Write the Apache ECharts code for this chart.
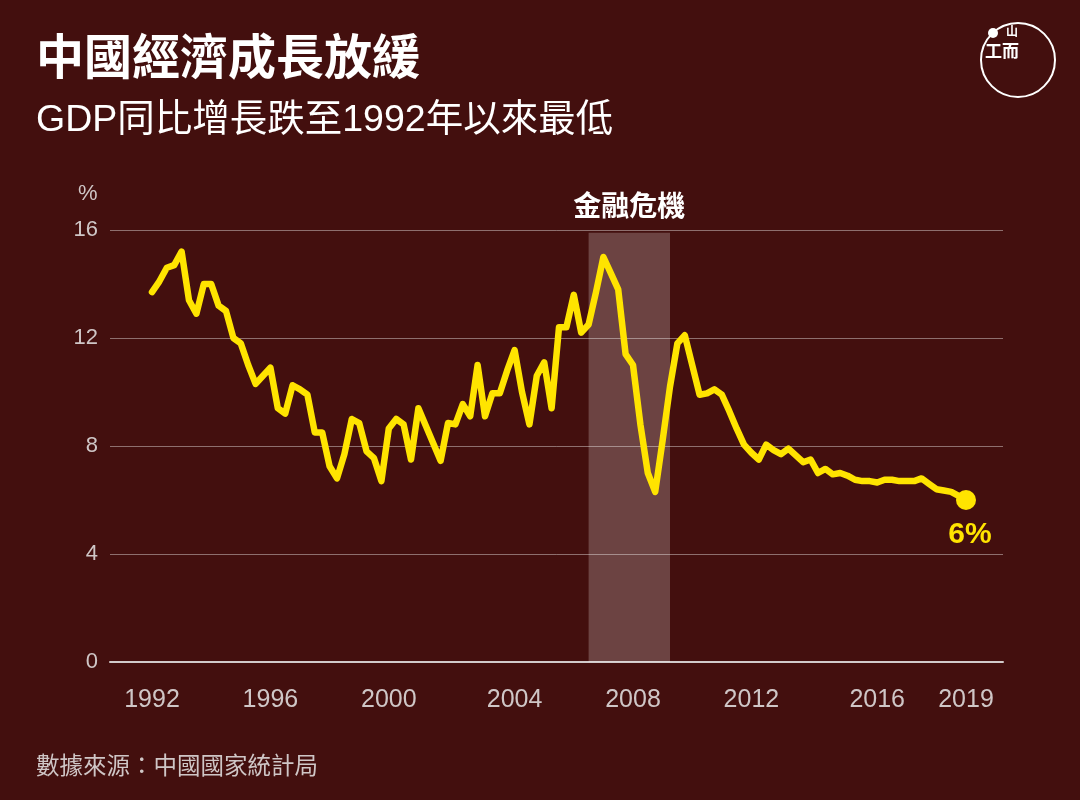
<!DOCTYPE html>
<html>
<head>
<meta charset="utf-8">
<script src="https://cdn.jsdelivr.net/npm/echarts@6/dist/echarts.min.js"></script>
<style>
html,body{margin:0;padding:0;background:#430f0e;}
#chart{width:1080px;height:800px;}
</style>
</head>
<body>
<div id="chart"></div>
<script>
// ---- data ----
const years = [];
for (let y = 1992; y <= 2019; y++) years.push(y);
const quarters = [];
years.forEach(y => { for (let q = 1; q <= 4; q++) { if (y === 2019 && q > 3) break; quarters.push(y + 'Q' + q); } });

// quarterly GDP growth, year on year, %
const gdpGrowth = [
  13.7, 14.1, 14.6, 14.7,   // 1992
  15.2, 13.4, 12.9, 14.0,   // 1993
  14.0, 13.2, 13.0, 12.0,   // 1994
  11.8, 11.0, 10.3, 10.6,   // 1995
  10.9, 9.4, 9.2, 10.25,    // 1996
  10.1, 9.9, 8.5, 8.5,      // 1997
  7.25, 6.8, 7.7, 9.0,      // 1998
  8.85, 7.8, 7.55, 6.7,     // 1999
  8.65, 9.0, 8.8, 7.5,      // 2000
  9.4, 8.75, 8.1, 7.45,     // 2001
  8.85, 8.8, 9.55, 9.1,     // 2002
  11.0, 9.1, 9.95, 9.95,    // 2003
  10.8, 11.55, 10.0, 8.8,   // 2004
  10.6, 11.1, 9.4, 12.4,    // 2005
  12.4, 13.6, 12.2, 12.5,   // 2006
  13.7, 15.0, 14.4, 13.8,   // 2007
  11.4, 11.0, 8.8, 7.0,     // 2008
  6.3, 8.2, 10.2, 11.8,     // 2009
  12.1, 11.0, 9.9, 9.95,    // 2010
  10.1, 9.9, 9.3, 8.65,     // 2011
  8.05, 7.75, 7.5, 8.05,    // 2012
  7.85, 7.7, 7.9, 7.65,     // 2013
  7.4, 7.5, 7.0, 7.15,      // 2014
  6.95, 7.0, 6.9, 6.75,     // 2015
  6.7, 6.7, 6.65, 6.75,     // 2016
  6.75, 6.7, 6.7, 6.7,      // 2017
  6.8, 6.6, 6.4, 6.35,      // 2018
  6.3, 6.15, 6.0            // 2019
];

// quarters carrying a year label on the x axis
const labelQuarters = ['1992Q1','1996Q1','2000Q1','2004Q2','2008Q2','2012Q2','2016Q3','2019Q3'];
const yTicks = [0, 4, 8, 12, 16];
const crisis = { from: '2006Q4', to: '2009Q3', label: '金融危機' };

const titleText = '中國經濟成長放緩';
const subtitleText = 'GDP同比增長跌至1992年以來最低';
const sourceText = '數據來源：中國國家統計局';

// ---- chart ----
const FONT = '"Liberation Sans", "Noto Sans CJK TC", sans-serif';
const chart = echarts.init(document.getElementById('chart'));
const lastIdx = gdpGrowth.length - 1;
const yMin = yTicks[0], yMax = yTicks[yTicks.length - 1];

chart.setOption({
  backgroundColor: '#430f0e',
  animation: false,
  textStyle: { fontFamily: FONT },
  title: [
    { text: titleText, left: 31, top: 32,
      textStyle: { color: '#ffffff', fontSize: 48, fontWeight: 'bold', fontFamily: FONT } },
    { text: subtitleText, left: 31, top: 97,
      textStyle: { color: '#ffffff', fontSize: 37.5, fontWeight: 'normal', fontFamily: FONT } },
    { text: sourceText, left: 31, top: 751,
      textStyle: { color: '#cfc6c6', fontSize: 23.5, fontWeight: 'normal', fontFamily: FONT } }
  ],
  grid: [
    { left: 110, right: 77, top: 230, bottom: 138 },   // gridlines + y labels
    { left: 152, right: 114, top: 230, bottom: 138 }   // data area
  ],
  xAxis: [
    {
      gridIndex: 0, type: 'value', min: 0, max: 1,
      axisLine: { show: true, onZero: false, lineStyle: { color: '#d2caca', width: 2 } },
      axisTick: { show: false }, axisLabel: { show: false }, splitLine: { show: false }
    },
    {
      gridIndex: 1,
      type: 'category',
      data: quarters,
      boundaryGap: false,
      axisLine: { show: false },
      axisTick: { show: false },
      splitLine: { show: false },
      axisLabel: {
        color: '#cfc6c6', fontSize: 25, margin: 26, fontFamily: FONT,
        interval: (i, v) => labelQuarters.indexOf(v) >= 0,
        formatter: v => v.slice(0, 4)
      }
    }
  ],
  yAxis: [
    {
      gridIndex: 0, type: 'value', min: yMin, max: yMax, interval: 4,
      axisLine: { show: false }, axisTick: { show: false },
      axisLabel: { color: '#cfc6c6', fontSize: 22, margin: 12, fontFamily: FONT },
      splitLine: { lineStyle: { color: 'rgba(255,255,255,0.4)', width: 1 } }
    },
    {
      gridIndex: 1, type: 'value', min: yMin, max: yMax, interval: 4,
      axisLine: { show: false }, axisTick: { show: false },
      axisLabel: { show: false }, splitLine: { show: false }
    }
  ],
  graphic: [
    { type: 'text', left: 78, top: 183, style: { text: '%', fill: '#cfc6c6', font: '22px ' + FONT } },
    { type: 'circle', shape: { cx: 1018, cy: 60, r: 37 }, style: { stroke: '#ffffff', lineWidth: 2, fill: 'none' } },
    { type: 'circle', shape: { cx: 993, cy: 33, r: 5 }, style: { fill: '#ffffff' } },
    { type: 'text', x: 1006, y: 25, style: { text: '山', fill: '#ffffff', font: 'bold 12px "Noto Sans CJK TC"' } },
    { type: 'text', x: 985, y: 42, style: { text: '工而', fill: '#ffffff', font: 'bold 17px "Noto Sans CJK TC"' } }
  ],
  series: [{
    type: 'line',
    xAxisIndex: 1, yAxisIndex: 1,
    data: gdpGrowth,
    symbol: 'none',
    lineStyle: { color: '#ffe400', width: 6.5, join: 'round', cap: 'round' },
    z: 5,
    markArea: {
      silent: true,
      itemStyle: { color: 'rgba(255,255,255,0.22)' },
      label: {
        show: true, position: 'top', distance: 10,
        color: '#ffffff', fontSize: 28, fontWeight: 'bold', fontFamily: FONT
      },
      data: [[
        { name: crisis.label, xAxis: crisis.from, yAxis: 0 },
        { xAxis: crisis.to, yAxis: 15.9 }
      ]]
    },
    markPoint: {
      silent: true,
      symbol: 'circle',
      symbolSize: 20,
      itemStyle: { color: '#ffe400' },
      label: {
        show: true, position: 'bottom', distance: 10, offset: [4, 0],
        color: '#ffe400', fontSize: 30, fontWeight: 'bold', fontFamily: FONT,
        formatter: p => Math.round(p.value) + '%'
      },
      data: [{ coord: [quarters[lastIdx], gdpGrowth[lastIdx]], value: gdpGrowth[lastIdx] }]
    }
  }]
});
</script>
</body>
</html>
